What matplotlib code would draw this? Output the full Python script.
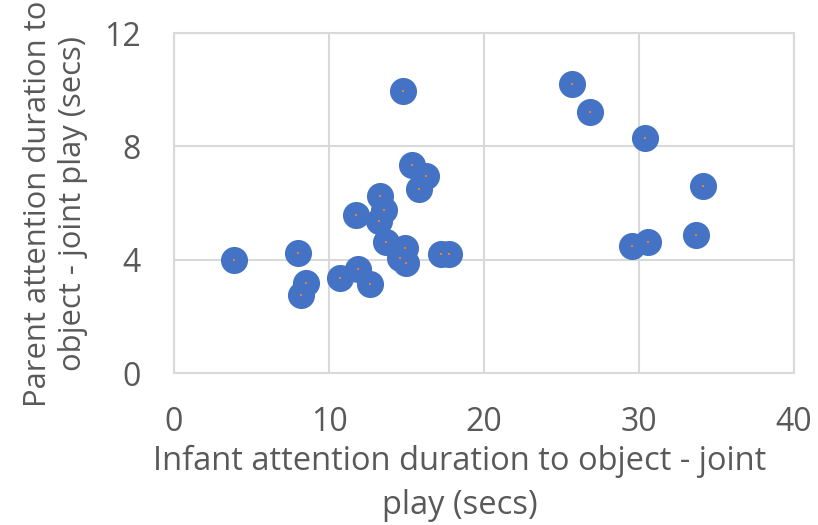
import matplotlib.pyplot as plt

# infant vs parent attention durations (secs)
infant_secs = [3.87, 7.98, 8.5, 8.22, 10.69, 11.9, 12.62, 11.72, 13.31, 13.53,
               13.25, 13.66, 14.88, 14.99, 14.6, 15.38, 16.24, 15.79, 17.72, 17.2,
               14.77, 25.66, 26.86, 30.37, 34.13, 33.66, 30.58, 29.55]
parent_secs = [4.0, 4.24, 3.18, 2.74, 3.37, 3.68, 3.14, 5.57, 6.25, 5.75,
               5.38, 4.62, 4.4, 3.87, 4.05, 7.33, 6.95, 6.49, 4.19, 4.19,
               9.96, 10.2, 9.2, 8.3, 6.6, 4.87, 4.62, 4.47]

x_ticks = [0, 10, 20, 30, 40]
y_ticks = [0, 4, 8, 12]

text_col = '#595959'
grid_col = '#d9d9d9'

plt.rcParams['font.family'] = ['Open Sans', 'DejaVu Sans']

fig = plt.figure(figsize=(8.18, 5.25), dpi=100)
ax = fig.add_axes([0.2127, 0.2895, 0.758, 0.6476])

ax.plot(infant_secs, parent_secs, 'o', color='#4472C4', markersize=19.5,
        markeredgewidth=0, zorder=3)
ax.plot(infant_secs, parent_secs, 's', color='#ED7D31', markersize=1.6,
        markeredgewidth=0, zorder=4)

ax.set_xlim(0, 40)
ax.set_ylim(0, 12)
ax.set_xticks(x_ticks)
ax.set_yticks(y_ticks)
ax.grid(True, color=grid_col, linewidth=1.5, zorder=0)
for s in ax.spines.values():
    s.set_color(grid_col)
    s.set_linewidth(1.5)
ax.tick_params(length=0, labelsize=23, labelcolor=text_col, pad=24)

fig.text(0.562, 0.079, 'Infant attention duration to object - joint\nplay (secs)',
         ha='center', va='center', fontsize=23.5, color=text_col, linespacing=1.45)
fig.text(0.068, 0.612, 'Parent attention duration to\nobject - joint play (secs)',
         ha='center', va='center', rotation=90, fontsize=22.3, color=text_col,
         linespacing=1.2)

fig.savefig('out.png', dpi=100)
